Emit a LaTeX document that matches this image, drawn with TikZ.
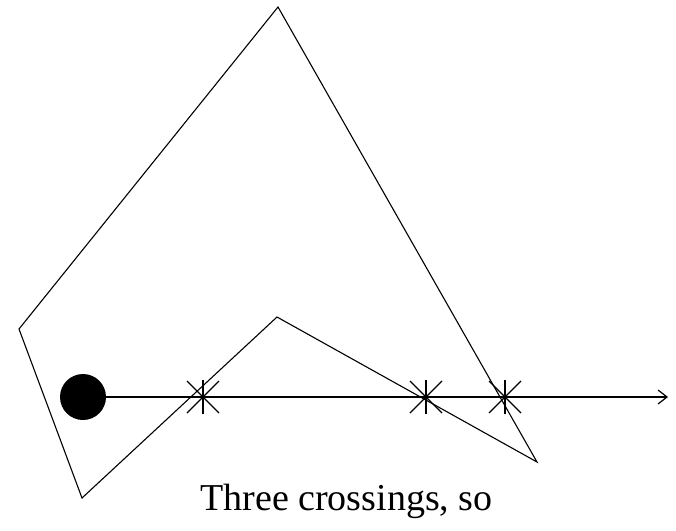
\documentclass[tikz,border=0pt]{standalone}
\usepackage{fontspec}
\setmainfont{Liberation Serif}
\usetikzlibrary{arrows.meta}
\begin{document}
\begin{tikzpicture}[x=1pt,y=-1pt,
  edge/.style={line width=1.1pt,line join=miter},
  ray/.style={line width=1.4pt,-{Straight Barb[length=9pt,width=14pt,line width=1.2pt]}},
  crossmark/.style={line width=1.2pt},
  lbl/.style={font=\fontsize{38}{42}\selectfont,inner sep=0pt}]
\useasboundingbox (0,0) rectangle (676,530);
\coordinate (A) at (278,7);
\coordinate (B) at (19,329);
\coordinate (C) at (82,498);
\coordinate (D) at (277,317);
\coordinate (E) at (537,462);
\draw[edge] (A) -- (B) -- (C) -- (D) -- (E) -- cycle;
\node[circle,fill=black,minimum size=46pt,inner sep=0pt] (dot) at (83,397) {};
\coordinate (tip) at (668,397);
\draw[ray] (dot.center) -- (tip);
\foreach \n/\x in {x1/203,x2/426,x3/505}{
  \coordinate (\n) at (\x,397);
  \draw[crossmark] ([shift={(0,-17)}]\n) -- ([shift={(0,17)}]\n);
  \draw[crossmark] ([shift={(-16,-16)}]\n) -- ([shift={(16,16)}]\n);
  \draw[crossmark] ([shift={(-16,16)}]\n) -- ([shift={(16,-16)}]\n);
}
\node[lbl,anchor=base] (cap) at (346.5,510) {Three crossings, so};
\end{tikzpicture}
\end{document}
